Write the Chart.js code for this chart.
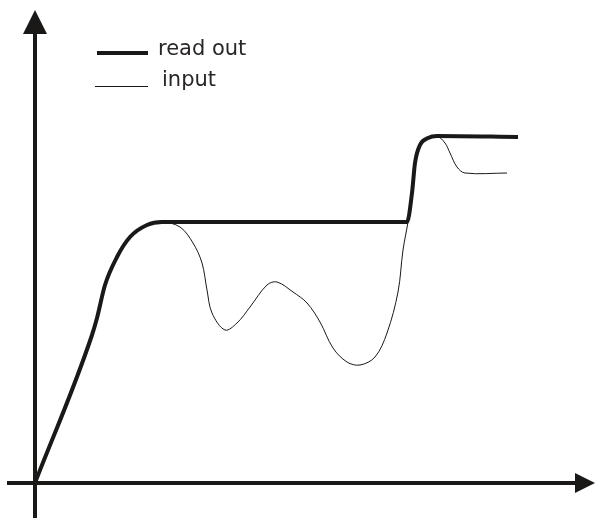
<!DOCTYPE html>
<html>
<head>
<meta charset="utf-8">
<script src="https://cdn.jsdelivr.net/npm/chart.js@4/dist/chart.umd.min.js"></script>
<style>
  html, body { margin: 0; padding: 0; background: #fff; }
  #wrap { width: 595px; height: 518px; }
</style>
</head>
<body>
<div id="wrap"><canvas id="chart" width="595" height="518"></canvas></div>
<script>
// values (x = time, y = signal level)
const readoutX = [0, 57, 62, 70, 82, 95, 112, 127, 265, 372, 377, 380, 385, 393, 402, 483]
const readoutY = [0, 148, 165, 198, 226, 246, 258, 261, 261, 261, 290, 320, 338, 345, 347, 346]

const inputX = [0, 57, 62, 70, 82, 95, 112, 127, 145, 158, 167, 172, 177, 190, 202, 215, 232, 242,
  258, 272, 285, 298, 312, 325, 340, 352, 363, 368, 373, 377, 380, 385, 393, 402, 410, 415, 422, 430, 472]
const inputY = [0, 148, 165, 198, 226, 246, 258, 261, 256, 240, 220, 193, 170, 153, 160, 176, 198, 201,
  191, 180, 161, 135, 121, 118, 126, 150, 191, 233, 261, 290, 320, 338, 345, 347, 340, 330, 316, 310, 310]

const legendLabels = ['read out', 'input']
const ink = '#1b1818'

const toPoints = (xs, ys) => xs.map((x, i) => ({ x, y: ys[i] }))

// axes with arrow heads, drawn on the scales' zero lines
const arrowAxes = {
  id: 'arrowAxes',
  beforeDatasetsDraw (chart) {
    const { ctx, scales: { x, y }, chartArea } = chart
    const ox = x.getPixelForValue(0)
    const oy = y.getPixelForValue(0)
    ctx.save()
    ctx.strokeStyle = ink
    ctx.fillStyle = ink
    ctx.lineWidth = 4
    ctx.beginPath()
    ctx.moveTo(chartArea.left + 7, oy)
    ctx.lineTo(chartArea.right - 15, oy)
    ctx.moveTo(ox, chartArea.bottom)
    ctx.lineTo(ox, chartArea.top + 20)
    ctx.stroke()
    // x arrow
    ctx.beginPath()
    ctx.moveTo(chartArea.right, oy)
    ctx.lineTo(chartArea.right - 20, oy - 10)
    ctx.lineTo(chartArea.right - 20, oy + 10)
    ctx.closePath()
    ctx.fill()
    // y arrow
    ctx.beginPath()
    ctx.moveTo(ox, chartArea.top + 10)
    ctx.lineTo(ox - 12, chartArea.top + 34)
    ctx.lineTo(ox + 12, chartArea.top + 34)
    ctx.closePath()
    ctx.fill()
    ctx.restore()
  }
}

// small hand-style legend in the upper left
const sketchLegend = {
  id: 'sketchLegend',
  afterDraw (chart) {
    const { ctx } = chart
    ctx.save()
    ctx.strokeStyle = ink
    ctx.fillStyle = '#2a2626'
    ctx.font = '21px "DejaVu Sans"'
    ctx.textBaseline = 'alphabetic'
    ctx.lineWidth = 4
    ctx.beginPath()
    ctx.moveTo(97, 53)
    ctx.lineTo(148, 53)
    ctx.stroke()
    ctx.fillText(legendLabels[0], 158, 55)
    ctx.lineWidth = 1
    ctx.beginPath()
    ctx.moveTo(95, 86.5)
    ctx.lineTo(148, 86.5)
    ctx.stroke()
    ctx.fillText(legendLabels[1], 162, 86)
    ctx.restore()
  }
}

new Chart(document.getElementById('chart'), {
  type: 'line',
  data: {
    datasets: [{
      label: legendLabels[0],
      data: toPoints(readoutX, readoutY),
      borderColor: ink,
      borderWidth: 4,
      pointRadius: 0,
      cubicInterpolationMode: 'monotone'
    }, {
      label: legendLabels[1],
      data: toPoints(inputX, inputY),
      borderColor: ink,
      borderWidth: 1,
      pointRadius: 0,
      tension: 0.35
    }]
  },
  options: {
    responsive: false,
    animation: false,
    layout: { padding: 0 },
    plugins: {
      legend: { display: false },
      tooltip: { enabled: false }
    },
    scales: {
      x: { type: 'linear', min: -35, max: 560, display: false },
      y: { type: 'linear', min: -35, max: 483, display: false }
    }
  },
  plugins: [arrowAxes, sketchLegend]
})
</script>
</body>
</html>
